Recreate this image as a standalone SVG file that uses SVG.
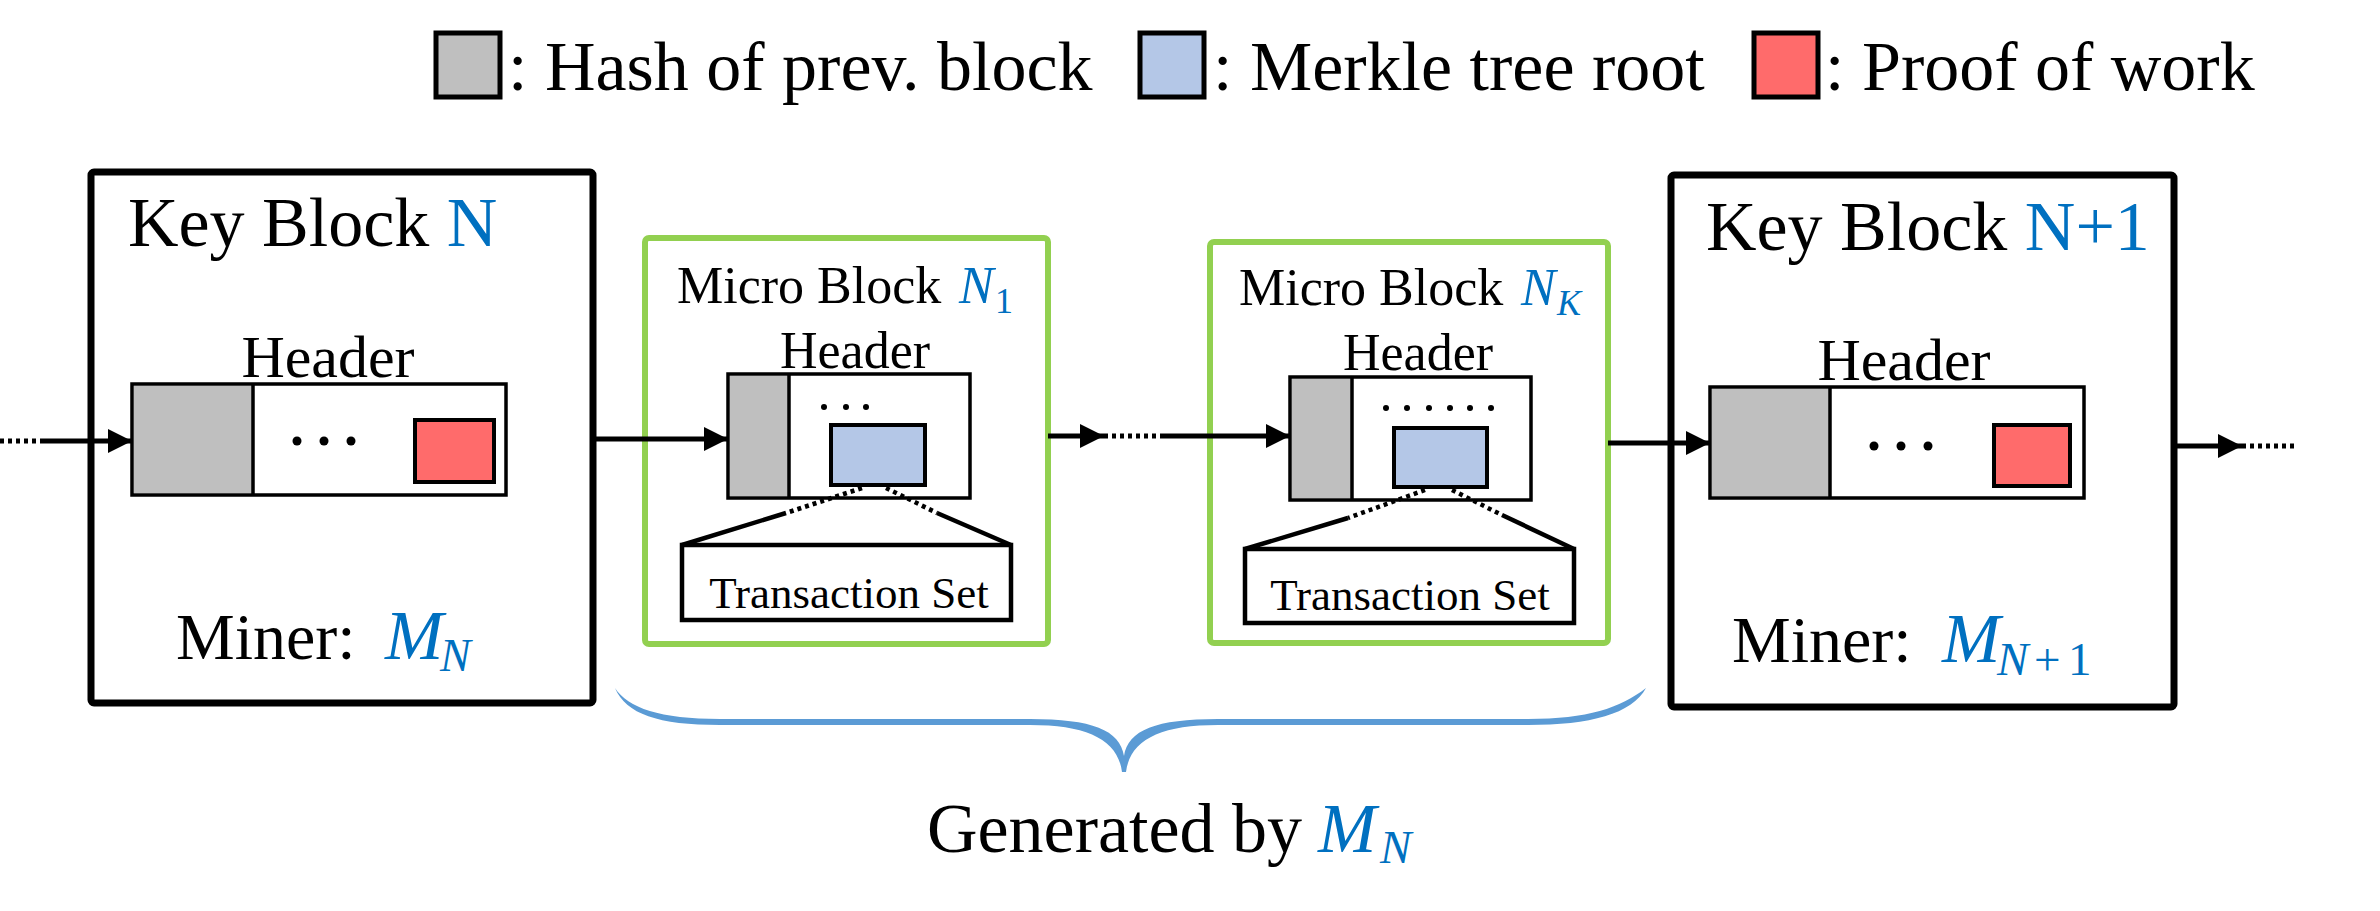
<svg xmlns="http://www.w3.org/2000/svg" width="2380" height="911" viewBox="0 0 2380 911">
<style>
text{font-family:"Liberation Serif","Times New Roman",serif;fill:#000}
.t70{font-size:70px}
.hdr{font-size:60px;text-anchor:middle}
.hdrs{font-size:52px;text-anchor:middle}
.ts{font-size:45px;text-anchor:middle}
.blue{fill:#0070C0}
.it{font-style:italic}
.key{fill:#fff;stroke:#000;stroke-width:7}
.micro{fill:#fff;stroke:#92D050;stroke-width:6}
.box{fill:#fff;stroke:#000;stroke-width:3.5}
.hash{fill:#BFBFBF;stroke:none}
.pow{fill:#FF6B6B;stroke:#000;stroke-width:4}
.mrk{fill:#B4C7E7;stroke:#000;stroke-width:4}
.sep{stroke:#000;stroke-width:3.5}
.leg{stroke:#000;stroke-width:5}
.solid{stroke:#000;stroke-width:5;fill:none}
.dot{stroke:#000;stroke-width:5;fill:none;stroke-dasharray:4 4}
.tsolid{stroke:#000;stroke-width:4.5;fill:none}
.tdot{stroke:#000;stroke-width:4.5;fill:none;stroke-dasharray:4 4}
</style>
<defs>
<marker id="ah" markerUnits="userSpaceOnUse" markerWidth="26" markerHeight="26" refX="24" refY="12" orient="auto">
<path d="M0,0 L24,12 L0,24 z" fill="#000"/>
</marker>
</defs>
<rect width="2380" height="911" fill="#fff"/>

<g id="legend">
<rect x="436" y="33" width="64" height="64" class="leg" fill="#BFBFBF"/>
<text class="t70" x="508" y="90">: Hash of prev. block</text>
<rect x="1140" y="33" width="64" height="64" class="leg" fill="#B4C7E7"/>
<text class="t70" x="1213" y="90">: Merkle tree root</text>
<rect x="1754" y="33" width="64" height="64" class="leg" fill="#FF6B6B"/>
<text class="t70" x="1825" y="90">: Proof of work</text>
</g>

<g id="key-block-n">
<rect x="91" y="172" width="502" height="531" rx="3" class="key"/>
<text class="t70" x="128" y="246">Key Block <tspan class="blue">N</tspan></text>
<text class="hdr" x="328" y="377">Header</text>
<rect x="132" y="384" width="374" height="111" class="box"/>
<rect x="134" y="386" width="119" height="107" class="hash"/>
<line x1="253" y1="384" x2="253" y2="495" class="sep"/>
<circle cx="297" cy="441" r="4.5"/><circle cx="324" cy="441" r="4.5"/><circle cx="351" cy="441" r="4.5"/>
<rect x="415" y="420" width="79" height="62" class="pow"/>
<text x="176" y="659" style="font-size:66px">Miner:<tspan class="blue it" x="385" style="font-size:70px">M</tspan><tspan class="blue it" x="440" dy="12" style="font-size:46px">N</tspan></text>
</g>

<g id="micro-block-n1">
<rect x="645" y="238" width="403" height="406" rx="4" class="micro"/>
<text x="677" y="303" style="font-size:52px">Micro Block<tspan class="blue it" x="959">N</tspan><tspan class="blue" x="995" dy="10" style="font-size:36px">1</tspan></text>
<text class="hdrs" x="855" y="368">Header</text>
<rect x="728" y="374" width="242" height="124" class="box"/>
<rect x="730" y="376" width="59" height="120" class="hash"/>
<line x1="789" y1="374" x2="789" y2="498" class="sep"/>
<circle cx="824" cy="407" r="3"/><circle cx="846" cy="407" r="3"/><circle cx="866" cy="407" r="3"/>
<rect x="831" y="425" width="94" height="60" class="mrk"/>
<path d="M862,488 L786,513" class="tdot"/>
<path d="M786,513 L682,545" class="tsolid"/>
<path d="M886,488 L937,513" class="tdot"/>
<path d="M937,513 L1011,545" class="tsolid"/>
<rect x="682" y="545" width="329" height="75" class="box" style="stroke-width:4.5"/>
<text class="ts" x="849" y="608">Transaction Set</text>
</g>

<g id="micro-block-nk">
<rect x="1210" y="242" width="398" height="401" rx="4" class="micro"/>
<text x="1239" y="305" style="font-size:52px">Micro Block<tspan class="blue it" x="1521">N</tspan><tspan class="blue it" x="1557" dy="10" style="font-size:36px">K</tspan></text>
<text class="hdrs" x="1418" y="370">Header</text>
<rect x="1290" y="377" width="241" height="123" class="box"/>
<rect x="1292" y="379" width="60" height="119" class="hash"/>
<line x1="1352" y1="377" x2="1352" y2="500" class="sep"/>
<circle cx="1386" cy="408" r="3"/><circle cx="1407" cy="408" r="3"/><circle cx="1429" cy="408" r="3"/><circle cx="1450" cy="408" r="3"/><circle cx="1470" cy="408" r="3"/><circle cx="1491" cy="408" r="3"/>
<rect x="1394" y="428" width="93" height="59" class="mrk"/>
<path d="M1425,490 L1348,518" class="tdot"/>
<path d="M1348,518 L1245,549" class="tsolid"/>
<path d="M1452,490 L1502,515" class="tdot"/>
<path d="M1502,515 L1574,549" class="tsolid"/>
<rect x="1245" y="549" width="329" height="74" class="box" style="stroke-width:4.5"/>
<text class="ts" x="1410" y="610">Transaction Set</text>
</g>

<g id="key-block-n1">
<rect x="1671" y="175" width="503" height="532" rx="3" class="key"/>
<text class="t70" x="1706" y="250">Key Block <tspan class="blue">N+1</tspan></text>
<text class="hdr" x="1904" y="380">Header</text>
<rect x="1710" y="387" width="374" height="111" class="box"/>
<rect x="1712" y="389" width="118" height="107" class="hash"/>
<line x1="1830" y1="387" x2="1830" y2="498" class="sep"/>
<circle cx="1874" cy="446" r="4.5"/><circle cx="1901" cy="446" r="4.5"/><circle cx="1928" cy="446" r="4.5"/>
<rect x="1994" y="425" width="76" height="61" class="pow"/>
<text x="1732" y="662" style="font-size:66px">Miner:<tspan class="blue it" x="1942" style="font-size:70px">M</tspan><tspan class="blue it" x="1997" dy="13" style="font-size:47px">N</tspan><tspan class="blue" x="2034" style="font-size:47px">+</tspan><tspan class="blue" x="2068" style="font-size:47px">1</tspan></text>
</g>

<g id="connectors">
<path d="M0,441 L43,441" class="dot"/>
<path d="M43,441 L132,441" class="solid" marker-end="url(#ah)"/>
<path d="M593,439 L728,439" class="solid" marker-end="url(#ah)"/>
<path d="M1048,436 L1104,436" class="solid" marker-end="url(#ah)"/>
<path d="M1104,436 L1164,436" class="dot"/>
<path d="M1164,436 L1290,436" class="solid" marker-end="url(#ah)"/>
<path d="M1608,443 L1710,443" class="solid" marker-end="url(#ah)"/>
<path d="M2174,446 L2242,446" class="solid" marker-end="url(#ah)"/>
<path d="M2242,446 L2296,446" class="dot"/>
</g>

<g id="brace">
<path d="M615,688 C628,708 660,719 720,719 L1030,719 C1092,719 1120,730 1124,756 C1128,730 1156,719 1218,719 L1528,719 C1588,719 1620,708 1646,688 C1632,714 1590,725 1528,725 L1218,725 C1160,725 1130,740 1126,772 L1122,772 C1118,740 1088,725 1030,725 L720,725 C658,725 626,714 615,688 Z" fill="#5B9BD5"/>
</g>

<g id="generated-label">
<text class="t70" x="927" y="852">Generated by<tspan class="blue it" x="1318">M</tspan><tspan class="blue it" x="1380" dy="11" style="font-size:47px">N</tspan></text>
</g>
</svg>
